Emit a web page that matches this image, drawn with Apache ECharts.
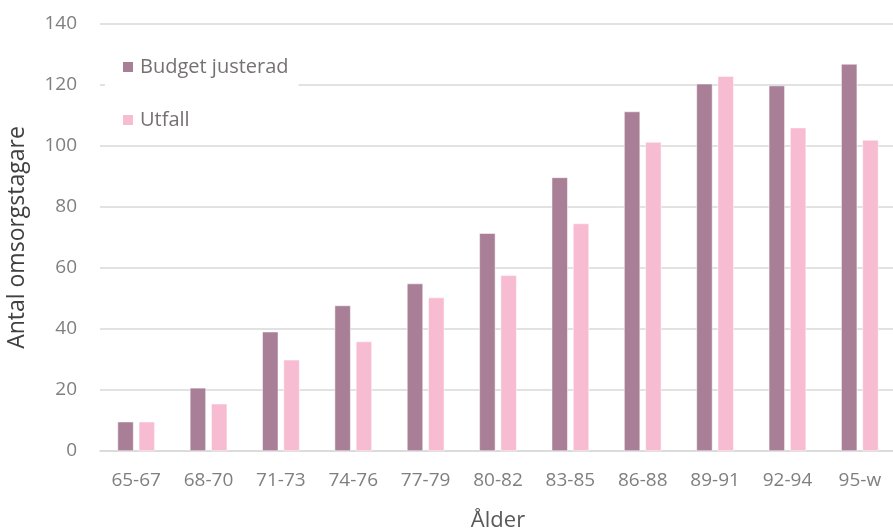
<!DOCTYPE html>
<html>
<head>
<meta charset="utf-8">
<script src="https://cdn.jsdelivr.net/npm/echarts@6/dist/echarts.min.js"></script>
<style>
  html, body { margin: 0; padding: 0; background: #ffffff; overflow: hidden; }
  #chart { width: 893px; height: 532px; }
</style>
</head>
<body>
<div id="chart"></div>
<script>
// Age groups and number of care recipients per group
const categories = ['65-67', '68-70', '71-73', '74-76', '77-79', '80-82', '83-85', '86-88', '89-91', '92-94', '95-w'];
const budgetJusterad = [9.6, 20.7, 39.1, 47.7, 54.9, 71.4, 89.7, 111.3, 120.4, 119.8, 126.9];
const utfall = [9.6, 15.5, 29.9, 35.9, 50.3, 57.6, 74.6, 101.3, 122.9, 106.0, 102.0];
const seriesNames = ['Budget justerad', 'Utfall'];
const yTicks = { min: 0, max: 140, interval: 20 };

const FONT = '"Open Sans", Lato, "Liberation Sans", sans-serif';
const TEXT = '#7f7f7f';
const GRID = '#d9d9d9';

const chart = echarts.init(document.getElementById('chart'), null, { renderer: 'canvas', width: 893, height: 532 });
chart.setOption({
  animation: false,
  textStyle: { fontFamily: FONT },
  grid: { left: 100, right: -3, top: 24, bottom: 81, containLabel: false, outerBoundsMode: 'none' },
  legend: {
    orient: 'vertical',
    left: 105,
    top: 53,
    itemWidth: 12,
    itemHeight: 12,
    itemGap: 33,
    backgroundColor: '#ffffff',
    padding: [4, 10, 4, 16],
    icon: 'rect',
    textStyle: { fontFamily: FONT, fontSize: 20, color: '#767171', padding: [0, 0, 0, 1] },
    data: seriesNames
  },
  xAxis: {
    type: 'category',
    data: categories,
    name: 'Ålder',
    nameLocation: 'middle',
    nameGap: 59,
    nameTextStyle: { fontFamily: FONT, fontSize: 22, color: '#595959' },
    axisLine: { show: true, lineStyle: { color: GRID, width: 1.5 } },
    axisTick: { show: false },
    axisLabel: { fontFamily: FONT, fontSize: 19, color: TEXT, margin: 20 }
  },
  yAxis: {
    type: 'value',
    min: yTicks.min,
    max: yTicks.max,
    interval: yTicks.interval,
    name: 'Antal omsorgstagare',
    nameLocation: 'middle',
    nameGap: 71,
    nameTextStyle: { fontFamily: FONT, fontSize: 23, color: '#404040' },
    axisLine: { show: false },
    axisTick: { show: false },
    axisLabel: { fontFamily: FONT, fontSize: 19, color: TEXT, margin: 23 },
    splitLine: { lineStyle: { color: GRID, width: 1.5 } }
  },
  series: [
    {
      name: seriesNames[0],
      type: 'bar',
      data: budgetJusterad,
      barWidth: 16,
      barGap: '33%',
      itemStyle: { color: '#a87f96', borderColor: '#ffffff', borderWidth: 0.5 }
    },
    {
      name: seriesNames[1],
      type: 'bar',
      data: utfall,
      barWidth: 16,
      itemStyle: { color: '#f7bcd1', borderColor: '#ffffff', borderWidth: 0.5 }
    }
  ]
});
</script>
</body>
</html>
